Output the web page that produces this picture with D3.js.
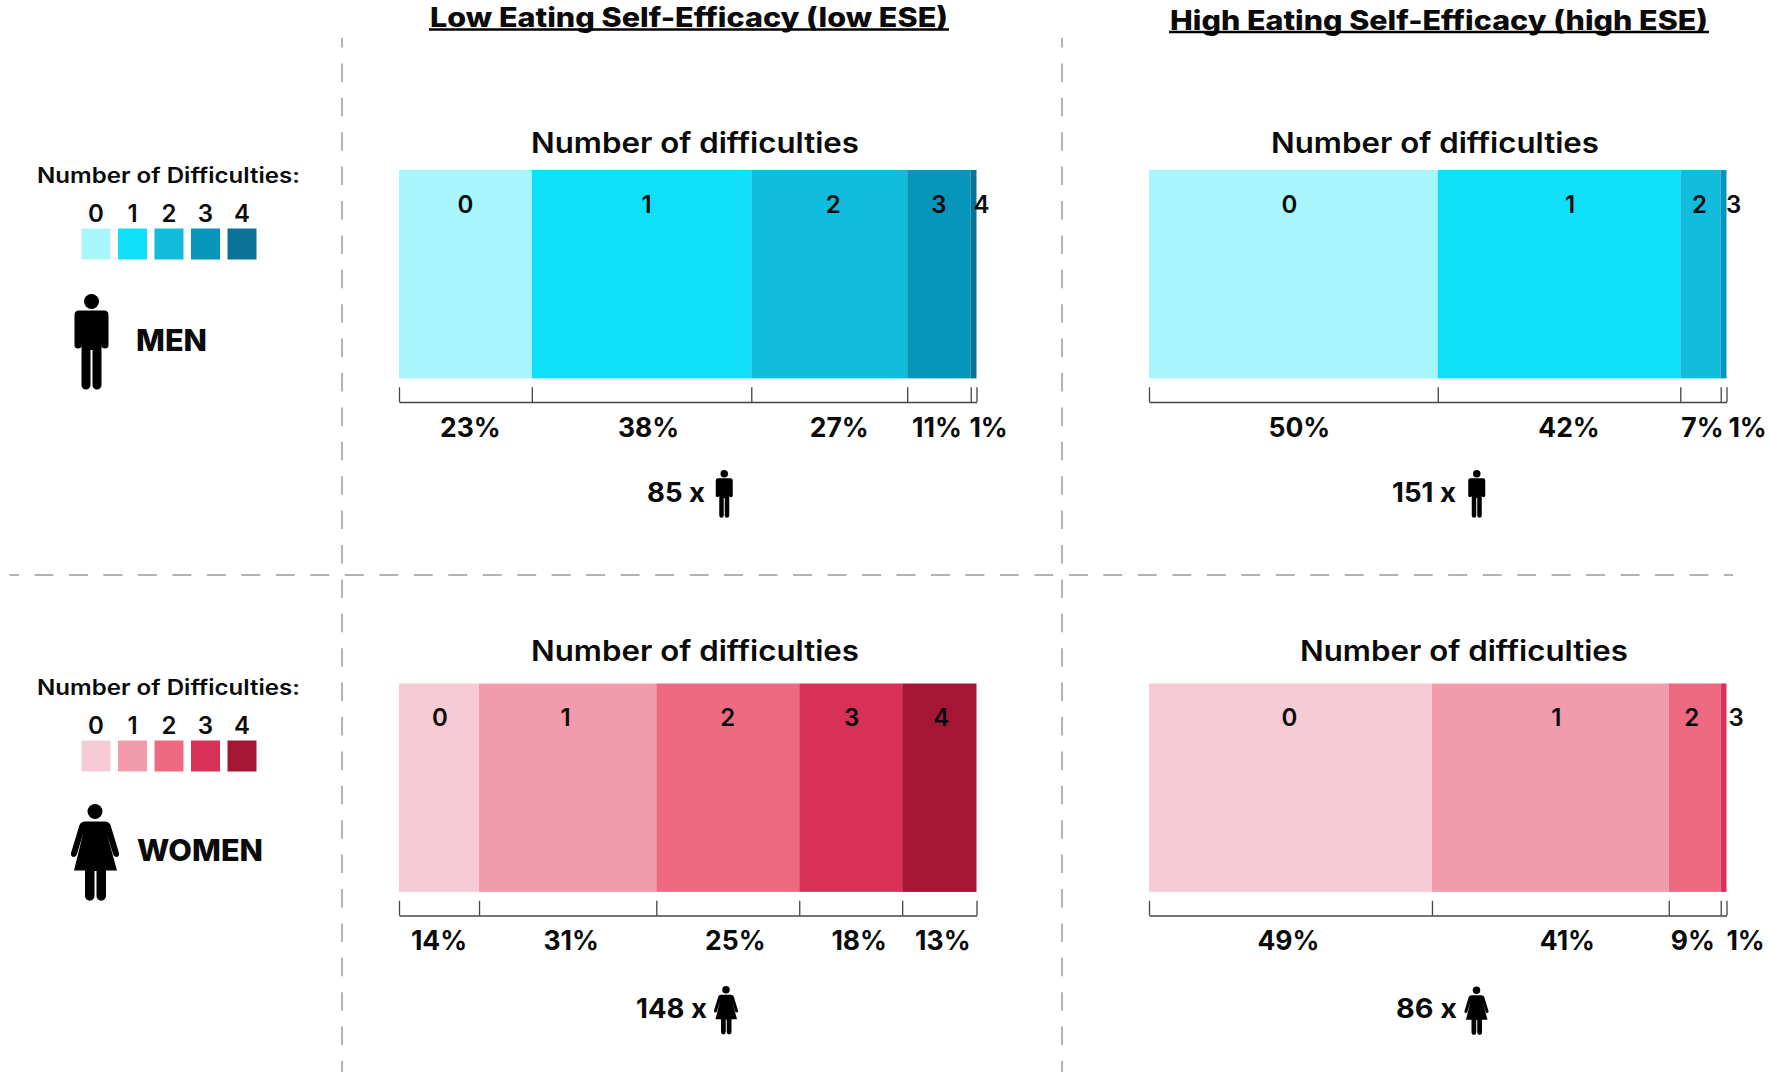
<!DOCTYPE html>
<html>
<head>
<meta charset="utf-8">
<script src="https://cdn.jsdelivr.net/npm/d3@7"></script>
<style>
  html, body { margin: 0; padding: 0; background: #fff; }
  svg { display: block; }
  text { font-family: Inter, "Open Sans", sans-serif; fill: #0b0b0b; }
</style>
</head>
<body>
<div id="chart"></div>
<script>
// data
const categories = ["0", "1", "2", "3", "4"];
const menLowEse = [23, 38, 27, 11, 1];
const menHighEse = [50, 42, 7, 1];
const womenLowEse = [14, 31, 25, 18, 13];
const womenHighEse = [49, 41, 9, 1];
const menLowCount = 85;
const menHighCount = 151;
const womenLowCount = 148;
const womenHighCount = 86;
const menColors = ["#a8f6fb", "#0fdff7", "#12bcdc", "#0796bb", "#0a7197"];
const womenColors = ["#f6cbd6", "#f19bac", "#ee6a80", "#d73157", "#a51634"];

// svg container
const svgWidth = 1770, svgHeight = 1077;
const svg = d3.select("#chart").append("svg")
  .attr("width", svgWidth)
  .attr("height", svgHeight);

// label helper, y is the vertical middle of the text
function label(g, str, x, y, size, weight, anchor, width) {
  const t = g.append("text")
    .attr("x", x)
    .attr("y", y + size * 0.36)
    .attr("font-size", size)
    .attr("font-weight", weight)
    .attr("text-anchor", anchor || "middle")
    .text(str);
  if (width) t.attr("textLength", width).attr("lengthAdjust", "spacingAndGlyphs");
  return t;
}

// icons, drawn in their own little box with the head top at 0
const manBody = "M5,16.5H30Q34.5,16.5 34.5,21V51A3.5,3.5 0 0 1 27.5,51V91A4.5,4.5 0 0 1 18.5,91V56H16.5V91A4.5,4.5 0 0 1 7.5,91V51A3.5,3.5 0 0 1 0.5,51V21Q0.5,16.5 5,16.5Z";
const womanBody = "M14,17.5H34Q38,17.5 39.5,21L48,49Q48.5,53 45,53Q43,53 42,50L36,30L46,66.5H35V92A4.5,4.5 0 0 1 25.5,92V67H23.5V92A4.5,4.5 0 0 1 14,92V66.5H3L12,30L6,50Q5,53 3,53Q-0.5,53 0,49L8.5,21Q10,17.5 14,17.5Z";

function icon(g, kind, x, y, k) {
  const ig = g.append("g").attr("transform", `translate(${x},${y}) scale(${k})`);
  ig.append("circle")
    .attr("cx", kind === "man" ? 17.5 : 24)
    .attr("cy", 7.5)
    .attr("r", 7.5)
    .attr("fill", "#000");
  ig.append("path").attr("d", kind === "man" ? manBody : womanBody).attr("fill", "#000");
}

// dashed dividers
const dash = "#9b9b9b";
[342, 1062].forEach(x => {
  svg.append("line")
    .attr("x1", x).attr("x2", x)
    .attr("y1", 38).attr("y2", 1072)
    .attr("stroke", dash)
    .attr("stroke-width", 1.5)
    .attr("stroke-dasharray", "18.5 15.9")
    .attr("stroke-dashoffset", 9);
});
svg.append("line")
  .attr("x1", 9.5).attr("x2", 1733)
  .attr("y1", 575).attr("y2", 575)
  .attr("stroke", dash)
  .attr("stroke-width", 1.5)
  .attr("stroke-dasharray", "19 15.48")
  .attr("stroke-dashoffset", 9.5);

// column titles
[
  { text: "Low Eating Self-Efficacy (low ESE)", x: 430, w: 518, y: 17.5, line: 29.5 },
  { text: "High Eating Self-Efficacy (high ESE)", x: 1170, w: 538, y: 20.5, line: 32 }
].forEach(d => {
  label(svg, d.text, d.x, d.y, 27, 800, "start", d.w);
  svg.append("line")
    .attr("x1", d.x - 1).attr("x2", d.x + d.w + 1)
    .attr("y1", d.line).attr("y2", d.line)
    .attr("stroke", "#000")
    .attr("stroke-width", 2.4);
});

// one stacked bar with bracket axis, digits and percent labels
const barWidth = 577.5, barHeight = 208.4;

function panel(o) {
  const g = svg.append("g");
  const x = d3.scaleLinear()
    .domain([0, d3.sum(o.values)])
    .range([o.x0, o.x0 + barWidth]);

  const segs = [];
  o.values.forEach((v, i) => {
    const start = i === 0 ? 0 : segs[i - 1].end;
    segs.push({ v, i, start, end: start + v });
  });

  g.selectAll("rect")
    .data(segs)
    .enter()
    .append("rect")
    .attr("x", d => x(d.start))
    .attr("y", o.top)
    .attr("width", d => x(d.end) - x(d.start))
    .attr("height", barHeight)
    .attr("fill", d => o.colors[d.i]);

  label(g, "Number of difficulties", o.titleX, o.top + o.titleDy, 28, 600, "start", 328);

  segs.forEach((d, i) => {
    const mid = x((d.start + d.end) / 2);
    label(g, categories[i], mid + o.digitNudge[i], o.top + 34, 24, 600);
    label(g, d.v + "%", mid + o.pctNudge[i], o.top + 257, 26.5, 700);
  });

  // bracket under the bar
  const axis = d3.axisTop(x)
    .tickValues([0].concat(segs.map(d => d.end)))
    .tickSize(14.7)
    .tickSizeOuter(0)
    .tickFormat("");
  const ax = g.append("g")
    .attr("transform", `translate(0,${o.top + 232})`)
    .call(axis);
  ax.selectAll("path, line").attr("stroke", "#444").attr("stroke-width", 1.3);

  // respondent count
  label(g, o.count + " x", o.countX, o.top + o.countDy, 27, 700, "end", o.countW);
  icon(g, o.kind, o.iconX, o.top + o.iconDy, 0.5);
}

panel({
  values: menLowEse, colors: menColors, count: menLowCount, kind: "man",
  x0: 399, top: 170, titleX: 531, titleDy: -27.5,
  digitNudge: [0, 5, 4, 0, 8], pctNudge: [5, 7, 10, -2, 15],
  countX: 705, countW: 58, countDy: 322.5, iconX: 715.5, iconDy: 300
});
panel({
  values: menHighEse, colors: menColors, count: menHighCount, kind: "man",
  x0: 1149, top: 170, titleX: 1271, titleDy: -27.5,
  digitNudge: [-4, 11, -1, 10], pctNudge: [6, 10, 2, 24],
  countX: 1456, countW: 64, countDy: 322.5, iconX: 1468, iconDy: 300
});
panel({
  values: womenLowEse, colors: womenColors, count: womenLowCount, kind: "woman",
  x0: 399, top: 683.5, titleX: 531, titleDy: -33,
  digitNudge: [1, -2, 0, 1, 2], pctNudge: [0, 3.5, 7.5, 8.5, 3.5],
  countX: 707, countW: 71, countDy: 324.5, iconX: 714, iconDy: 302.5
});
panel({
  values: womenHighEse, colors: womenColors, count: womenHighCount, kind: "woman",
  x0: 1149, top: 683.5, titleX: 1300, titleDy: -33,
  digitNudge: [-1, 6, -3, 12.5], pctNudge: [-2, 17, -2, 22],
  countX: 1457, countW: 61, countDy: 324.5, iconX: 1464.5, iconDy: 303
});

// left legends
function legend(o) {
  const g = svg.append("g");
  label(g, "Number of Difficulties:", 37, o.y, 21, 600, "start", 263);
  const lx = d3.scalePoint().domain(categories).range([96, 242]);
  categories.forEach((c, i) => {
    label(g, c, lx(c), o.y + 38.5, 24, 600);
    g.append("rect")
      .attr("x", lx(c) - 14.5)
      .attr("y", o.y + 53.5)
      .attr("width", 29)
      .attr("height", 31)
      .attr("fill", o.colors[i]);
  });
  icon(g, o.kind, o.iconX, o.iconY, 1);
  label(g, o.text, o.textX, o.textY, 30, 800, "start", o.textW);
}

legend({ y: 175, colors: menColors, kind: "man", iconX: 74, iconY: 294, text: "MEN", textX: 136, textY: 340.5, textW: 71 });
legend({ y: 687, colors: womenColors, kind: "woman", iconX: 71, iconY: 804, text: "WOMEN", textX: 137, textY: 850.5, textW: 126 });
</script>
</body>
</html>
